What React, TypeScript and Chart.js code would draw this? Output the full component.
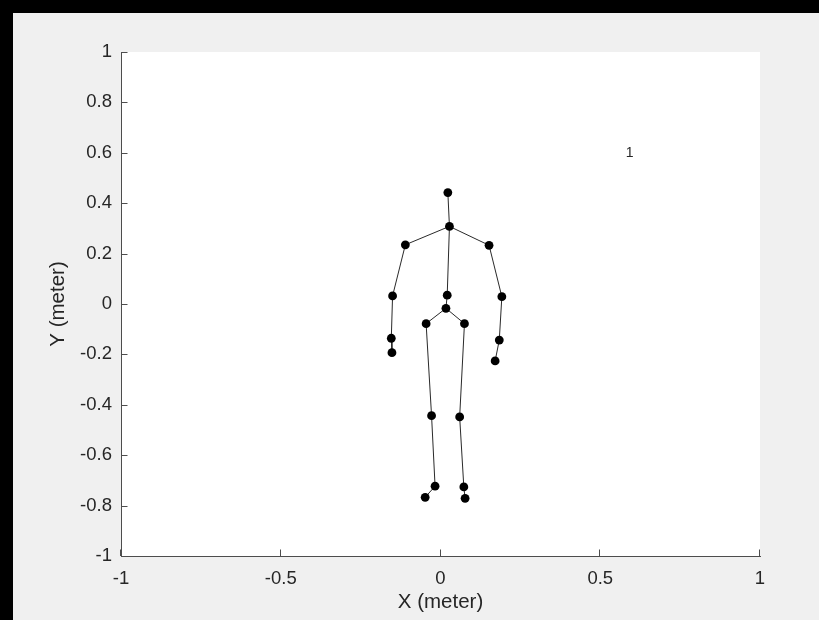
import React, { useEffect, useRef } from "react";
import { Chart, registerables } from "chart.js";

Chart.register(...registerables);

// ---- data ----
const jointNames = [
  "head", "neck", "shoulderL", "shoulderR", "elbowL", "elbowR",
  "wristL", "wristR", "handL", "handR", "spineMid", "spineBase",
  "hipL", "hipR", "kneeL", "kneeR", "ankleL", "ankleR", "footL", "footR",
];
const jointX = [
  0.023, 0.028, -0.110, 0.152, -0.150, 0.192,
  -0.154, 0.184, -0.152, 0.171, 0.021, 0.017,
  -0.045, 0.075, -0.028, 0.060, -0.017, 0.073, -0.048, 0.077,
];
const jointY = [
  0.442, 0.308, 0.235, 0.233, 0.032, 0.029,
  -0.136, -0.143, -0.193, -0.226, 0.035, -0.017,
  -0.078, -0.078, -0.443, -0.448, -0.723, -0.726, -0.767, -0.771,
];
const boneFrom = [0, 1, 1, 2, 4, 6, 3, 5, 7, 1, 10, 11, 11, 12, 14, 16, 13, 15, 17];
const boneTo = [1, 2, 3, 4, 6, 8, 5, 7, 9, 10, 11, 12, 13, 14, 16, 18, 15, 17, 19];

const xTickValues = [-1, -0.5, 0, 0.5, 1];
const xTickLabels = ["-1", "-0.5", "0", "0.5", "1"];
const yTickValues = [-1, -0.8, -0.6, -0.4, -0.2, 0, 0.2, 0.4, 0.6, 0.8, 1];
const yTickLabels = ["-1", "-0.8", "-0.6", "-0.4", "-0.2", "0", "0.2", "0.4", "0.6", "0.8", "1"];

const xTitle = "X (meter)";
const yTitle = "Y (meter)";
const annotationText = "1";
const annotationX = 0.58;
const annotationY = 0.6;

const FONT = '"Liberation Sans", Arial, Helvetica, sans-serif';
const TEXT_COLOR = "#262626";
const AXIS_COLOR = "#4d4d4d";

export default function App() {
  const canvasRef = useRef<HTMLCanvasElement | null>(null);

  useEffect(() => {
    const canvas = canvasRef.current;
    if (!canvas) return;

    const boneDatasets = boneFrom.map((a, i) => {
      const b = boneTo[i];
      return {
        label: jointNames[a] + "-" + jointNames[b],
        data: [
          { x: jointX[a], y: jointY[a] },
          { x: jointX[b], y: jointY[b] },
        ],
        showLine: true,
        borderColor: "#2a2a2a",
        borderWidth: 1,
        pointRadius: 0,
        pointHoverRadius: 0,
        fill: false,
      };
    });

    const jointDataset = {
      label: "joints",
      data: jointX.map((x, i) => ({ x, y: jointY[i] })),
      showLine: false,
      pointRadius: 4.4,
      pointBackgroundColor: "#000000",
      pointBorderColor: "#000000",
      pointBorderWidth: 0,
    };

    const bgPlugin = {
      id: "bgPlugin",
      beforeDraw(chart: any) {
        const { ctx, chartArea } = chart;
        ctx.save();
        ctx.fillStyle = "#ffffff";
        ctx.fillRect(chartArea.left, chartArea.top, chartArea.right - chartArea.left, chartArea.bottom - chartArea.top);
        ctx.restore();
      },
      afterDraw(chart: any) {
        const { ctx, chartArea } = chart;
        const xs = chart.scales.x;
        const ys = chart.scales.y;
        const tickLen = 6.5;
        ctx.save();
        ctx.strokeStyle = AXIS_COLOR;
        ctx.lineWidth = 1;
        ctx.beginPath();
        xTickValues.forEach((v) => {
          const px = Math.round(xs.getPixelForValue(v)) - 0.5;
          ctx.moveTo(px, chartArea.bottom);
          ctx.lineTo(px, chartArea.bottom - tickLen);
        });
        yTickValues.forEach((v) => {
          const py = Math.round(ys.getPixelForValue(v)) + 0.5;
          ctx.moveTo(chartArea.left, py);
          ctx.lineTo(chartArea.left + tickLen, py);
        });
        ctx.stroke();
        // text annotation
        ctx.fillStyle = TEXT_COLOR;
        ctx.font = "14px " + FONT;
        ctx.textAlign = "left";
        ctx.textBaseline = "middle";
        ctx.fillText(annotationText, xs.getPixelForValue(annotationX), ys.getPixelForValue(annotationY));
        ctx.restore();
      },
    };

    const chart = new Chart(canvas, {
      type: "scatter",
      data: { datasets: [jointDataset as any, ...boneDatasets] },
      options: {
        animation: false,
        responsive: false,
        maintainAspectRatio: false,
        events: [],
        layout: { padding: { left: 0, top: 52, right: 59, bottom: 0 } },
        plugins: {
          legend: { display: false },
          tooltip: { enabled: false },
        },
        scales: {
          x: {
            type: "linear",
            min: -1,
            max: 1,
            afterBuildTicks: (scale: any) => {
              scale.ticks = xTickValues.map((v) => ({ value: v }));
            },
            afterFit: (scale: any) => {
              scale.height = 64;
            },
            grid: { display: false, drawTicks: false, tickLength: 0 },
            border: { display: true, color: AXIS_COLOR, width: 1 },
            ticks: {
              padding: 12,
              autoSkip: false,
              maxRotation: 0,
              color: TEXT_COLOR,
              font: { family: FONT, size: 18.5 },
              callback: (_v: any, i: number) => xTickLabels[i],
            },
            title: {
              display: true,
              text: xTitle,
              color: TEXT_COLOR,
              font: { family: FONT, size: 20.5 },
              padding: { top: 0, bottom: 5 },
            },
          },
          y: {
            type: "linear",
            min: -1,
            max: 1,
            afterBuildTicks: (scale: any) => {
              scale.ticks = yTickValues.map((v) => ({ value: v }));
            },
            afterFit: (scale: any) => {
              scale.width = 121;
            },
            grid: { display: false, drawTicks: false, tickLength: 0 },
            border: { display: true, color: AXIS_COLOR, width: 1 },
            ticks: {
              padding: 9,
              autoSkip: false,
              color: TEXT_COLOR,
              font: { family: FONT, size: 18.5 },
              callback: (_v: any, i: number) => yTickLabels[i],
            },
            title: {
              display: true,
              text: yTitle,
              color: TEXT_COLOR,
              font: { family: FONT, size: 20.5 },
              padding: { top: 46, bottom: 0 },
            },
          },
        },
      },
      plugins: [bgPlugin],
    });

    return () => {
      chart.destroy();
    };
  }, []);

  return (
    <div
      style={{
        position: "absolute",
        left: 0,
        top: 0,
        width: 819,
        height: 620,
        background: "#f0f0f0",
        overflow: "hidden",
      }}
    >
      <canvas
        ref={canvasRef}
        width={819}
        height={620}
        style={{ position: "absolute", left: 0, top: 0, width: 819, height: 620 }}
      />
      <div style={{ position: "absolute", left: 0, top: 0, width: 819, height: 13, background: "#000" }} />
      <div style={{ position: "absolute", left: 0, top: 0, width: 13, height: 620, background: "#000" }} />
    </div>
  );
}
